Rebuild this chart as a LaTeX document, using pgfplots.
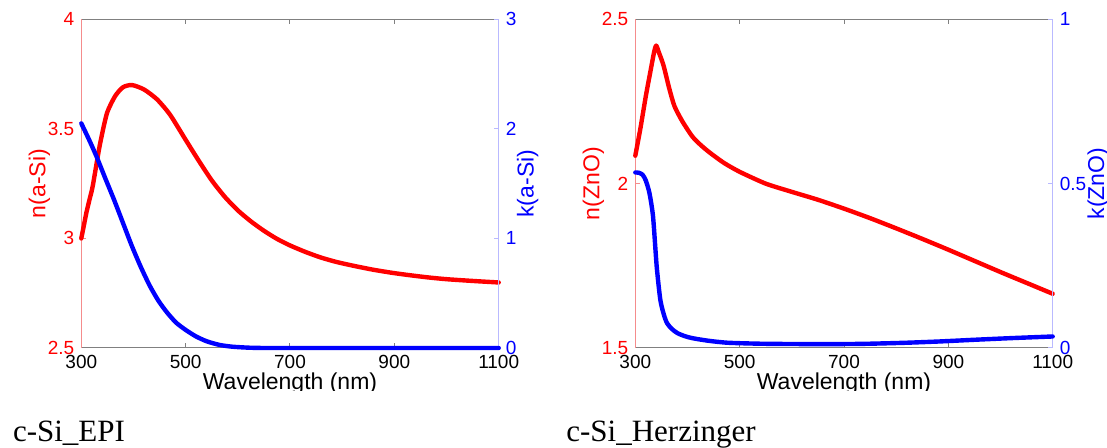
\documentclass[border=0pt]{standalone}
\usepackage{pgfplots}
\pgfplotsset{compat=1.18}
\usepackage{fontspec}
\setmainfont{Liberation Sans}
\newfontfamily\capfont{Liberation Serif}
\definecolor{spred}{RGB}{245,140,140}
\definecolor{spblue}{RGB}{185,185,255}
\definecolor{spgray}{RGB}{128,128,128}

\pgfplotsset{
 common/.style={scale only axis, width=208.7pt, height=164.35pt,
   xmin=300, xmax=1100, clip=false, tick align=inside, major tick length=2.5pt,
   separate axis lines,
   /pgf/number format/assume math mode=true, /pgf/number format/1000 sep={},
   scaled ticks=false,
   tick label style={font=\fontsize{9.5}{10}\selectfont},
   label style={font=\fontsize{11.5}{12}\selectfont},
   every axis plot/.append style={line width=2.2pt, line join=round, line cap=round, smooth, tension=0.4},
 },
 leftax/.style={common, axis x line*=box, axis y line*=left,
   x axis line style={spgray, line width=0.5pt},
   y axis line style={spred, line width=0.5pt},
   xtick={300,500,700,900,1100},
   xtick style={spgray, line width=0.5pt},
   ytick style={spred, line width=0.5pt},
   yticklabel style={red},
   xlabel={Wavelength (nm)},
   xlabel style={at={(axis description cs:0.5,0)}, anchor=base, yshift=-21pt},
   ylabel style={at={(axis description cs:-0.1006,0.5)}, anchor=center, red},
 },
 rightax/.style={common, axis x line=none, axis y line*=right,
   xtick=\empty,
   y axis line style={spblue, line width=0.5pt},
   ytick style={spblue, line width=0.5pt},
   yticklabel style={blue},
 },
}

\begin{document}
\begin{tikzpicture}
\path[use as bounding box] (0,0) rectangle (553.5pt,224pt);

% ---------- left panel ----------
\begin{axis}[leftax, at={(40.65pt,50pt)}, anchor=south west,
  ymin=2.5, ymax=4, ytick={2.5,3,3.5,4}, ylabel={n(a-Si)}]
\addplot[red] coordinates {
(300,3.00) (305,3.06) (310,3.12) (316,3.18) (322,3.24) (335,3.42) (349,3.57)
(365,3.65) (380,3.69) (397,3.70) (420,3.68) (445,3.635) (470,3.565) (500,3.45)
(525,3.355) (550,3.265) (575,3.19) (600,3.128) (625,3.078) (650,3.035)
(675,2.998) (700,2.968) (730,2.938) (759,2.913) (790,2.892) (828,2.872)
(860,2.857) (896,2.843) (930,2.832) (965,2.822) (1000,2.814) (1050,2.806)
(1100,2.799)};
\end{axis}
\begin{axis}[rightax, at={(40.65pt,50pt)}, anchor=south west,
  ymin=0, ymax=3, ytick={0,1,2,3}, ylabel={k(a-Si)},
  ylabel style={at={(axis description cs:1.0695,0.5)}, anchor=center, blue}]
\addplot[blue] coordinates {
(300,2.05) (315,1.90) (329,1.75) (345,1.56) (363,1.35) (380,1.14) (397,0.93)
(414,0.74) (431,0.57) (448,0.43) (465,0.32) (482,0.23) (500,0.165) (520,0.105)
(541,0.060) (565,0.028) (589,0.012) (620,0.003) (650,0.0) (700,0) (800,0)
(900,0) (1000,0) (1100,0)};
\end{axis}

% ---------- right panel ----------
\begin{axis}[leftax, at={(317.65pt,50pt)}, anchor=south west,
  ymin=1.5, ymax=2.5, ytick={1.5,2,2.5}, ylabel={n(ZnO)}]
\addplot[red] coordinates {
(300,2.085) (310,2.17) (320,2.265) (330,2.35) (336,2.40) (340,2.42) (345,2.40)
(354,2.36) (365,2.29) (375,2.236) (390,2.19) (409,2.144) (425,2.118) (443,2.094)
(470,2.063) (500,2.036) (550,2.000) (600,1.975) (650,1.951) (700,1.924)
(750,1.895) (800,1.864) (850,1.832) (900,1.799) (950,1.765) (1000,1.731)
(1050,1.698) (1100,1.665)};
\end{axis}
\begin{axis}[rightax, at={(317.65pt,50pt)}, anchor=south west,
  ymin=0, ymax=1, ytick={0,0.5,1}, ylabel={k(ZnO)},
  ylabel style={at={(axis description cs:1.1088,0.5)}, anchor=center, blue}]
\addplot[blue] coordinates {
(300,0.534) (307,0.533) (314,0.527) (320,0.51) (327,0.472) (334,0.40)
(341,0.248) (348,0.146) (355,0.100) (361,0.075) (370,0.058) (381,0.045)
(395,0.036) (409,0.030) (440,0.022) (477,0.016) (540,0.013) (613,0.012)
(700,0.012) (749,0.013) (820,0.016) (885,0.020) (950,0.025) (1020,0.030) (1100,0.035)};
\end{axis}

% clip of the x labels as in the reference
\fill[white] (0,20pt) rectangle (553.5pt,28.25pt);

\node[anchor=base west, inner sep=0pt, font=\capfont\fontsize{15.5}{16}\selectfont]
  at (6.3pt,3.15pt) {c-Si\_EPI};
\node[anchor=base west, inner sep=0pt, font=\capfont\fontsize{15.5}{16}\selectfont]
  at (283pt,3.15pt) {c-Si\_Herzinger};
\end{tikzpicture}
\end{document}
